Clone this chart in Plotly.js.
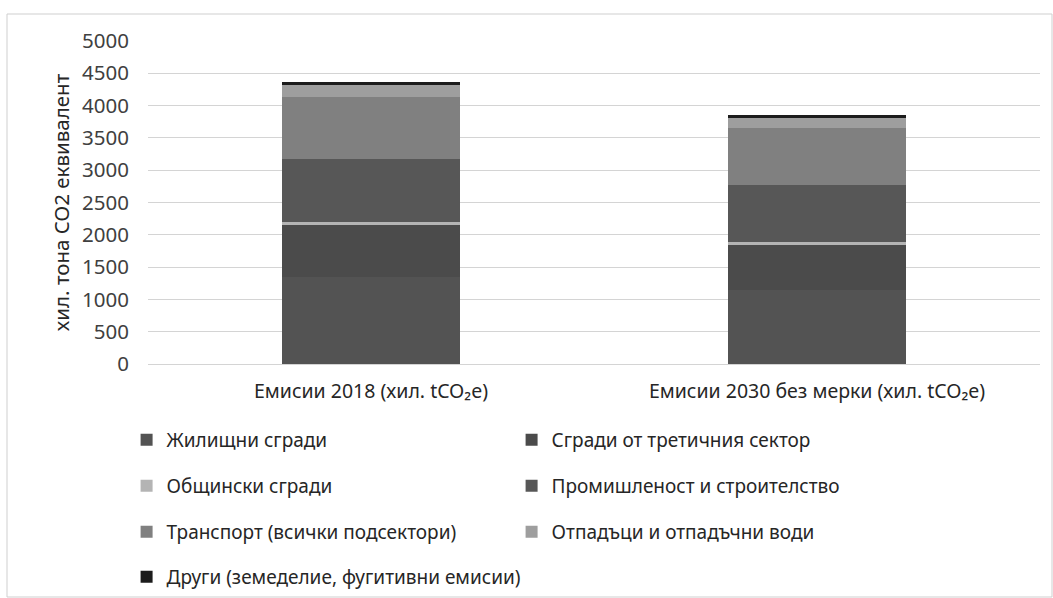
<!DOCTYPE html>
<html>
<head>
<meta charset="utf-8">
<script src="https://cdn.plot.ly/plotly-3.0.1.min.js"></script>
<style>html,body{margin:0;padding:0;background:#fff;}#chart{width:1053px;height:598px;}</style>
</head>
<body>
<div id="chart"></div>
<script>
const categories = ['Емисии 2018 (хил. tCO₂e)', 'Емисии 2030 без мерки (хил. tCO₂e)'];
const seriesNames = [
  'Жилищни сгради',
  'Сгради от третичния сектор',
  'Общински сгради',
  'Промишленост и строителство',
  'Транспорт (всички подсектори)',
  'Отпадъци и отпадъчни води',
  'Други (земеделие, фугитивни емисии)'
];
const residential = [1350, 1150];
const tertiary = [800, 690];
const municipal = [50, 50];
const industry = [970, 880];
const transport = [960, 880];
const waste = [190, 160];
const other = [45, 45];
const yTicks = [0, 500, 1000, 1500, 2000, 2500, 3000, 3500, 4000, 4500, 5000];

const seriesValues = [residential, tertiary, municipal, industry, transport, waste, other];
const colors = ['#535353', '#4b4b4b', '#b4b4b4', '#575757', '#808080', '#9e9e9e', '#1c1c1c'];
const legendIds = ['legend', 'legend', 'legend2', 'legend2', 'legend3', 'legend3', 'legend4'];

const FONT = 'Noto Sans, sans-serif';

const traces = seriesNames.map((name, i) => ({
  type: 'bar',
  name: name,
  x: categories,
  y: seriesValues[i],
  marker: {color: colors[i], line: {width: 0}},
  legend: legendIds[i],
  hoverinfo: 'name+y'
}));

// plot area: x 148..1040, y 41..364
const H = 323;
function py(Y) { return (364 - Y) / H; }
const legendBase = {
  orientation: 'h', xanchor: 'left', yanchor: 'middle',
  x: -0.024, entrywidth: 340, entrywidthmode: 'pixels',
  font: {family: FONT, size: 19, color: '#262626'},
  bgcolor: 'rgba(0,0,0,0)', traceorder: 'normal', itemwidth: 30
};

const layout = {
  width: 1053, height: 598,
  margin: {l: 148, r: 13, t: 41, b: 234, autoexpand: false},
  paper_bgcolor: '#ffffff', plot_bgcolor: '#ffffff',
  barmode: 'stack', bargap: 0.6,
  font: {family: FONT, color: '#404040'},
  showlegend: true,
  xaxis: {
    type: 'category',
    tickfont: {family: FONT, size: 19.5, color: '#262626'},
    showgrid: false, zeroline: false, showline: false, ticks: '',
    ticklabelstandoff: 13, automargin: false
  },
  yaxis: {
    range: [0, 5000], tickvals: yTicks, ticktext: yTicks.map(String),
    tickfont: {family: FONT, size: 20.5, color: '#404040'},
    gridcolor: '#d4d4d4', gridwidth: 1, zeroline: true, zerolinecolor: '#d4d4d4',
    showline: false, ticks: '', ticklabelstandoff: 18, automargin: false,
    title: {text: 'хил. тона CO2 еквивалент', font: {family: FONT, size: 20.5, color: '#262626'}, standoff: 6}
  },
  legend: Object.assign({}, legendBase, {y: py(440)}),
  legend2: Object.assign({}, legendBase, {y: py(486)}),
  legend3: Object.assign({}, legendBase, {y: py(532)}),
  legend4: Object.assign({}, legendBase, {y: py(577), entrywidth: 0}),
  shapes: [{
    type: 'rect', xref: 'paper', yref: 'paper',
    x0: (7 - 148) / 892, x1: (1052 - 148) / 892, y0: py(597), y1: py(14),
    line: {color: '#cfcfcf', width: 1}, fillcolor: 'rgba(0,0,0,0)', layer: 'below'
  }]
};

Plotly.newPlot('chart', traces, layout, {staticPlot: true, displayModeBar: false});
</script>
</body>
</html>
